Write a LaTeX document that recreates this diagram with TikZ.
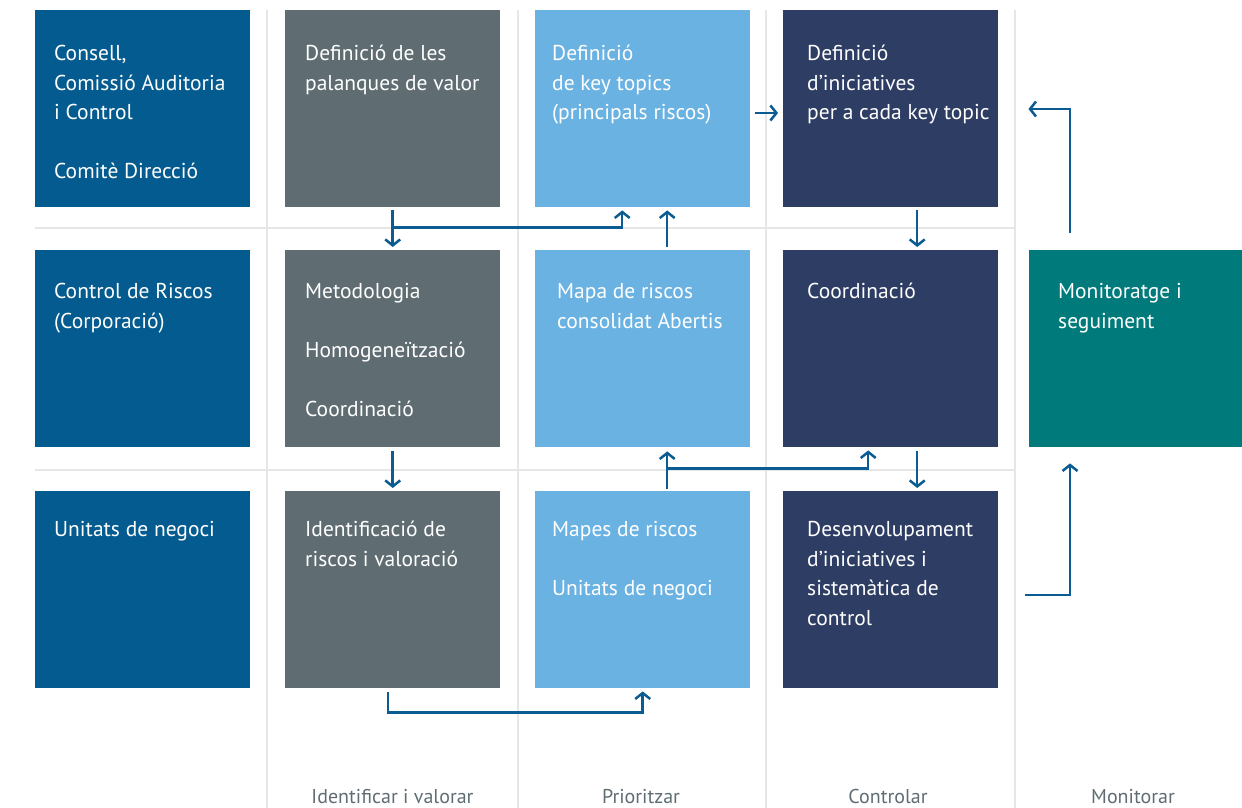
\documentclass[tikz,border=0pt]{standalone}
\usepackage{fontspec}
\setmainfont{PT Sans}
\usetikzlibrary{arrows.meta}

\definecolor{govblue}{HTML}{045B8F}
\definecolor{slate}{HTML}{5F6D73}
\definecolor{skyblue}{HTML}{6AB2E2}
\definecolor{navy}{HTML}{2E3D63}
\definecolor{teal}{HTML}{007A7A}
\definecolor{flowblue}{HTML}{0B5C93}
\definecolor{gridgray}{HTML}{E6E6E6}
\definecolor{phasegray}{HTML}{5F6D73}

\tikzset{
  cell/.style={anchor=north west, minimum width=215pt, minimum height=197pt,
    inner sep=0pt, fill=#1},
  celltext/.style={anchor=north west, inner sep=0pt, align=left, text=white,
    font=\fontsize{21.5}{29.5}\selectfont},
  flow/.style={draw=flowblue, line width=2.5pt,
    -{Straight Barb[length=6pt,width=15pt]}},
  gridline/.style={draw=gridgray, line width=1.5pt},
  phase/.style={anchor=base, text=phasegray, font=\fontsize{20}{24}\selectfont},
}

\begin{document}
\begin{tikzpicture}[x=1pt, y=-1pt]
  \useasboundingbox (0,0) rectangle (1242,808);

  % grid
  \draw[gridline] (267,10) -- (267,808);
  \draw[gridline] (518,10) -- (518,808);
  \draw[gridline] (766,10) -- (766,808);
  \draw[gridline] (1015,10) -- (1015,808);
  \draw[gridline] (35,228) -- (1015,228);
  \draw[gridline] (35,470) -- (1015,470);

  % boxes
  \node[cell=govblue] (b11) at (35,10) {};
  \node[cell=govblue] (b21) at (35,250) {};
  \node[cell=govblue] (b31) at (35,491) {};
  \node[cell=slate] (b12) at (285,10) {};
  \node[cell=slate] (b22) at (285,250) {};
  \node[cell=slate] (b32) at (285,491) {};
  \node[cell=skyblue] (b13) at (535,10) {};
  \node[cell=skyblue] (b23) at (535,250) {};
  \node[cell=skyblue] (b33) at (535,491) {};
  \node[cell=navy] (b14) at (783,10) {};
  \node[cell=navy] (b24) at (783,250) {};
  \node[cell=navy] (b34) at (783,491) {};
  \node[cell=teal, minimum width=213pt] (b25) at (1029,250) {};

  % texts
  \node[celltext] (t11) at ([xshift=19pt,yshift=-30pt]b11.north west)
    {\strut Consell,\\Comissió Auditoria\\i Control\\[29.5pt]Comitè Direcció};
  \node[celltext] (t21) at ([xshift=19pt,yshift=-28pt]b21.north west)
    {\strut Control de Riscos\\(Corporació)};
  \node[celltext] (t31) at ([xshift=19pt,yshift=-25pt]b31.north west)
    {\strut Unitats de negoci};
  \node[celltext] (t12) at ([xshift=20pt,yshift=-30pt]b12.north west)
    {\strut Definició de les\\palanques de valor};
  \node[celltext] (t22) at ([xshift=20pt,yshift=-28pt]b22.north west)
    {\strut Metodologia\\[29.5pt]Homogeneïtzació\\[29.5pt]Coordinació};
  \node[celltext] (t32) at ([xshift=20pt,yshift=-25pt]b32.north west)
    {\strut Identificació de\\riscos i valoració};
  \node[celltext] (t13) at ([xshift=17pt,yshift=-30pt]b13.north west)
    {\strut Definició\\de key topics\\(principals riscos)};
  \node[celltext] (t23) at ([xshift=22pt,yshift=-28pt]b23.north west)
    {\strut Mapa de riscos\\consolidat Abertis};
  \node[celltext] (t33) at ([xshift=17pt,yshift=-25pt]b33.north west)
    {\strut Mapes de riscos\\[29.5pt]Unitats de negoci};
  \node[celltext] (t14) at ([xshift=24pt,yshift=-30pt]b14.north west)
    {\strut Definició\\d’iniciatives\\per a cada key topic};
  \node[celltext] (t24) at ([xshift=24pt,yshift=-28pt]b24.north west)
    {\strut Coordinació};
  \node[celltext] (t34) at ([xshift=24pt,yshift=-25pt]b34.north west)
    {\strut Desenvolupament\\d’iniciatives i\\sistemàtica de\\control};
  \node[celltext] (t25) at ([xshift=29pt,yshift=-28pt]b25.north west)
    {\strut Monitoratge i\\seguiment};

  % phases
  \node[phase] (p2) at (392.5,803) {Identificar i valorar};
  \node[phase] (p3) at (641,803) {Prioritzar};
  \node[phase] (p4) at (888,803) {Controlar};
  \node[phase] (p5) at (1133,803) {Monitorar};

  % flows
  \draw[flow, shorten <=3pt, shorten >=3pt] (b12) -- (b22);
  \draw[flow] ([yshift=-20pt]b12.south) -| ([xshift=-20.5pt,yshift=-3pt]b13.south);
  \draw[flow] ([xshift=24.5pt,yshift=3pt]b23.north) -- ([xshift=24.5pt,yshift=-3pt]b13.south);
  \draw[flow] ([xshift=5pt,yshift=-103pt]b13.north east) -- ([xshift=-5pt,yshift=-103pt]b14.north west);
  \draw[flow] ([xshift=26.5pt,yshift=-3pt]b14.south) -- ([xshift=26.5pt,yshift=3pt]b24.north);
  \draw[flow, shorten <=4pt, shorten >=3pt] (b22) -- (b32);
  \draw[flow] ([xshift=24.5pt,yshift=2pt]b33.north) -- ([xshift=24.5pt,yshift=-4pt]b23.south);
  \draw[flow] ([xshift=24.5pt,yshift=-21pt]b23.south) -| ([xshift=-22.5pt,yshift=-3pt]b24.south);
  \draw[flow] ([xshift=26.5pt,yshift=-4pt]b24.south) -- ([xshift=26.5pt,yshift=3pt]b34.north);
  \draw[flow] ([xshift=-4.5pt,yshift=-4pt]b32.south) -- ++(0,-20pt) -| ([yshift=-3pt]b33.south);
  \draw[flow] ([xshift=41pt,yshift=17pt]b25.north west) |- ([xshift=30pt,yshift=-99pt]b14.north east);
  \draw[flow] ([xshift=27pt,yshift=-104pt]b34.north east) -| ([xshift=41pt,yshift=-16pt]b25.south west);
\end{tikzpicture}
\end{document}
